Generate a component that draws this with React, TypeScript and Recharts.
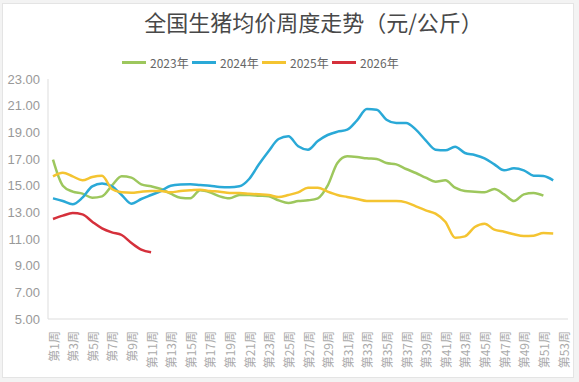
import React from 'react';
import { LineChart, Line, XAxis, YAxis } from 'recharts';

const title = '全国生猪均价周度走势（元/公斤）';
const weeks: string[] = Array.from({ length: 53 }, (_, i) => `第${i + 1}周`);
const yTicks = [5, 7, 9, 11, 13, 15, 17, 19, 21, 23];
const seriesKeys = ['y2023', 'y2024', 'y2025', 'y2026'];
const seriesNames = ['2023年', '2024年', '2025年', '2026年'];
const seriesColors = ['#9dc75d', '#2aa9d7', '#f4c431', '#d5303b'];

const s2023 = [
  16.95, 15.0, 14.55, 14.4, 14.1, 14.2, 15.0, 15.7, 15.6, 15.1,
  14.95, 14.75, 14.4, 14.1, 14.05, 14.65, 14.5, 14.2, 14.05, 14.3,
  14.3, 14.25, 14.2, 13.9, 13.7, 13.85, 13.9, 14.05, 15.0, 16.7,
  17.2, 17.15, 17.05, 17.0, 16.7, 16.6, 16.25, 15.95, 15.6, 15.3,
  15.4, 14.85, 14.6, 14.55, 14.5, 14.75, 14.35, 13.85, 14.35, 14.45,
  14.25,
];
const s2024 = [
  14.05, 13.85, 13.6, 14.1, 14.95, 15.17, 14.95, 14.3, 13.65, 14.0,
  14.3, 14.6, 15.0, 15.08, 15.1, 15.05, 15.0, 14.9, 14.88, 14.95,
  15.5, 16.6, 17.6, 18.5, 18.7, 17.95, 17.7, 18.35, 18.8, 19.05,
  19.2, 19.9, 20.75, 20.7, 19.95, 19.7, 19.7, 19.2, 18.4, 17.7,
  17.65, 17.92, 17.45, 17.3, 17.05, 16.6, 16.15, 16.3, 16.15, 15.75,
  15.72, 15.4,
];
const s2025 = [
  15.7, 15.97, 15.7, 15.4, 15.65, 15.75, 14.75, 14.5, 14.47, 14.55,
  14.6, 14.6, 14.5, 14.6, 14.65, 14.7, 14.6, 14.55, 14.45, 14.45,
  14.4, 14.35, 14.3, 14.15, 14.3, 14.5, 14.85, 14.85, 14.55, 14.3,
  14.15, 14.0, 13.85, 13.85, 13.85, 13.85, 13.75, 13.45, 13.15, 12.9,
  12.3, 11.1, 11.2, 11.9, 12.15, 11.7, 11.55, 11.35, 11.22, 11.25,
  11.45, 11.42,
];
const s2026 = [12.5, 12.75, 12.95, 12.85, 12.3, 11.8, 11.5, 11.3, 10.7, 10.2, 10.0];

const seriesValues = [s2023, s2024, s2025, s2026];

const data = weeks.map((w, i) => {
  const row: Record<string, string | number | undefined> = { week: w };
  seriesKeys.forEach((k, j) => {
    row[k] = seriesValues[j][i];
  });
  return row;
});

const FONT = '"Noto Sans CJK SC", "Liberation Sans", sans-serif';

const XTick = (props: any) => {
  const { x, y, payload } = props;
  return (
    <text
      x={x}
      y={y}
      transform={`rotate(-90 ${x} ${y})`}
      textAnchor="end"
      dominantBaseline="central"
      fontSize={12}
      fontFamily={FONT}
      fill="#aaaaaa"
    >
      {payload.value}
    </text>
  );
};

export default function App() {
  return (
    <div
      style={{
        position: 'absolute',
        left: 0,
        top: 0,
        width: 579,
        height: 382,
        background: '#f3f3f3',
        fontFamily: FONT,
      }}
    >
      <div
        style={{
          position: 'absolute',
          left: 2,
          top: 3,
          width: 570,
          height: 373,
          background: '#ffffff',
          border: '1px solid #e4e4e4',
        }}
      />
      <div
        style={{
          position: 'absolute',
          left: 7,
          top: 6,
          width: 613,
          textAlign: 'center',
          fontSize: 22,
          color: '#484848',
          lineHeight: '30px',
          whiteSpace: 'nowrap',
        }}
      >
        {title}
      </div>
      <div
        style={{
          position: 'absolute',
          left: 122,
          top: 53,
          height: 18,
          display: 'flex',
          alignItems: 'center',
        }}
      >
        {seriesNames.map((n, i) => (
          <div key={n} style={{ display: 'flex', alignItems: 'center', width: 70 }}>
            <div style={{ width: 24, height: 3, background: seriesColors[i], marginRight: 4 }} />
            <span style={{ fontSize: 12, color: '#666666' }}>{n}</span>
          </div>
        ))}
      </div>
      <div style={{ position: 'absolute', left: 0, top: 0 }}>
        <LineChart
          width={579}
          height={382}
          data={data}
          margin={{ top: 79, right: 11, bottom: 3, left: 0 }}
        >
          <XAxis
            dataKey="week"
            interval={1}
            height={60}
            padding={{ left: 5, right: 5 }}
            tick={<XTick />}
            tickLine={false}
            tickSize={6}
            tickMargin={6}
            axisLine={{ stroke: '#dddddd' }}
          />
          <YAxis
            type="number"
            domain={[5, 23]}
            ticks={yTicks}
            width={48}
            tickLine={false}
            axisLine={{ stroke: '#dddddd' }}
            tickFormatter={(v: number) => v.toFixed(2)}
            tick={{ fontSize: 13, fill: '#999999', fontFamily: '"Liberation Sans", sans-serif' }}
          />
          {seriesKeys.map((k, i) => (
            <Line
              key={k}
              type="monotone"
              dataKey={k}
              name={seriesNames[i]}
              stroke={seriesColors[i]}
              strokeWidth={2.5}
              dot={false}
              isAnimationActive={false}
            />
          ))}
        </LineChart>
      </div>
    </div>
  );
}
